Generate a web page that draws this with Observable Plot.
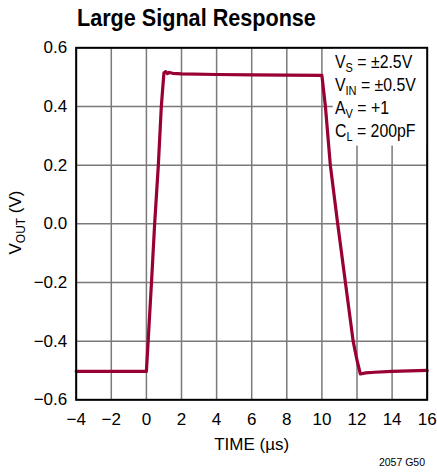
<!DOCTYPE html>
<html>
<head>
<meta charset="utf-8">
<script src="https://cdn.jsdelivr.net/npm/d3@7"></script>
<script src="https://cdn.jsdelivr.net/npm/@observablehq/plot@0.6"></script>
<style>
  html, body { margin: 0; padding: 0; background: white; }
  #wrap { position: relative; width: 437px; height: 474px; overflow: hidden; font-family: "Liberation Sans Narrow", "Liberation Sans", sans-serif; }
  #title { position: absolute; left: 77px; top: 6px; font-size: 24px; font-weight: bold; line-height: 1; white-space: nowrap; color: #000; transform: scaleX(0.9); transform-origin: 0 0; }
  #chart { position: absolute; left: 0; top: 38px; }
  #caption { position: absolute; right: 12px; top: 457px; font-size: 10.5px; line-height: 1; color: #000; }
</style>
</head>
<body>
<div id="wrap">
  <div id="title">Large Signal Response</div>
  <div id="chart"></div>
  <div id="caption">2057 G50</div>
</div>
<script>
const FONT = '"Liberation Sans Narrow", "Liberation Sans", sans-serif';

// time (µs)
const timeUs = [-4, -2, 0, 0.1, 0.29, 0.47, 0.68, 0.85, 1.0, 1.1, 1.2, 1.3, 1.5, 2, 4, 6, 8, 10, 10.2, 10.48, 10.9, 11.34, 11.78, 12.0, 12.19, 12.5, 13, 14, 16];
// output voltage (V)
const vOut = [-0.503, -0.503, -0.503, -0.4, -0.2, 0, 0.2, 0.4, 0.515, 0.519, 0.512, 0.516, 0.513, 0.511, 0.509, 0.508, 0.507, 0.506, 0.4, 0.2, 0, -0.2, -0.4, -0.465, -0.512, -0.508, -0.506, -0.503, -0.5];

const xTicks = [-4, -2, 0, 2, 4, 6, 8, 10, 12, 14, 16];
const yTicks = [-0.6, -0.4, -0.2, 0, 0.2, 0.4, 0.6];

const xLabel = "TIME (µs)";
const yLabelParts = ["V", "OUT", " (V)"];
const conditions = [
  ["V", "S", " = ±2.5V"],
  ["V", "IN", " = ±0.5V"],
  ["A", "V", " = +1"],
  ["C", "L", " = 200pF"]
];
// legend box extent in data units
const boxX = [10.65, 16];
const boxY = [0.265, 0.6];

const data = timeUs.map((t, i) => ({t, v: vOut[i]}));

const plot = Plot.plot({
  width: 437,
  height: 436,
  marginLeft: 75.7,
  marginRight: 10.3,
  marginTop: 9.3,
  marginBottom: 74.7,
  x: {domain: [-4, 16]},
  y: {domain: [-0.6, 0.6]},
  style: {fontFamily: FONT, background: "white", color: "black", overflow: "visible"},
  marks: [
    Plot.gridX(xTicks, {stroke: "#7a7a7a", strokeOpacity: 1, strokeWidth: 1.5}),
    Plot.gridY(yTicks, {stroke: "#7a7a7a", strokeOpacity: 1, strokeWidth: 1.5}),
    Plot.rect([0], {x1: boxX[0], x2: boxX[1], y1: boxY[0], y2: boxY[1], fill: "white"}),
    Plot.line(data, {x: "t", y: "v", stroke: "#990033", strokeWidth: 3.2, strokeLinejoin: "round"}),
    Plot.frame({stroke: "black", strokeWidth: 2}),
    Plot.axisX(xTicks, {tickSize: 0, tickPadding: 13, fontSize: 17, label: null}),
    Plot.axisY(yTicks, {tickSize: 0, tickPadding: 9, fontSize: 17, label: null}),
    Plot.text([xLabel], {frameAnchor: "bottom", dy: 50, fontSize: 17})
  ]
});

document.getElementById("chart").appendChild(plot);

const svg = d3.select(plot);
// y axis label with subscript
const yl = svg.append("text")
  .attr("transform", "translate(21,184.5) rotate(-90)")
  .attr("text-anchor", "middle")
  .attr("font-size", 17)
  .attr("fill", "black");
yl.append("tspan").text(yLabelParts[0]);
yl.append("tspan").attr("font-size", 12).attr("dy", 4).text(yLabelParts[1]);
yl.append("tspan").attr("dy", -4).text(yLabelParts[2]);

// conditions block
const cg = svg.append("g").attr("transform", "translate(335,0) scale(0.88,1)");
conditions.forEach((c, i) => {
  const t = cg.append("text")
    .attr("x", 0)
    .attr("y", 30 + i * 23)
    .attr("text-anchor", "start")
    .attr("font-size", 18)
    .attr("fill", "black");
  t.append("tspan").text(c[0]);
  t.append("tspan").attr("font-size", 12.5).attr("dy", 4).text(c[1]);
  t.append("tspan").attr("dy", -4).text(c[2]);
});
</script>
</body>
</html>
